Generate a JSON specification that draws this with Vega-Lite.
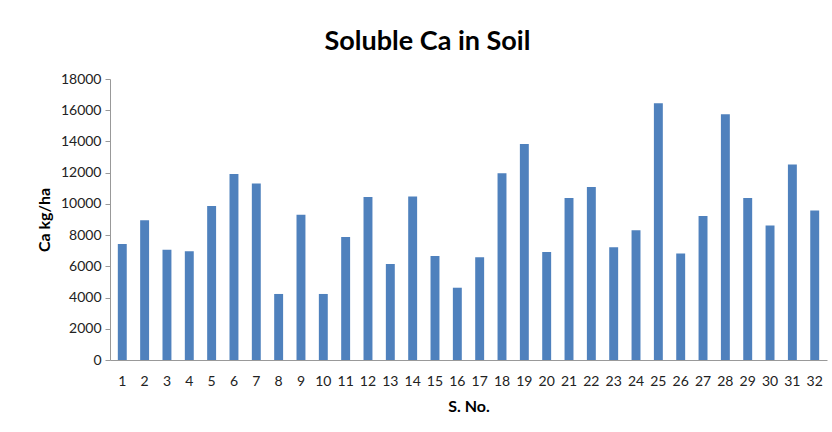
{
  "$schema": "https://vega.github.io/schema/vega-lite/v6.json",
  "width": 717,
  "height": 281,
  "autosize": {"type": "none"},
  "padding": {"left": 110, "top": 79, "right": 5, "bottom": 72},
  "background": "white",
  "title": {
    "text": "Soluble Ca in Soil",
    "font": "Lato",
    "fontSize": 27,
    "fontWeight": "bold",
    "color": "#000000",
    "anchor": "middle",
    "dx": -41,
    "offset": 16
  },
  "data": {
    "values": [
      {"sno": 1, "ca": 7430}, {"sno": 2, "ca": 8950}, {"sno": 3, "ca": 7070}, {"sno": 4, "ca": 6960},
      {"sno": 5, "ca": 9870}, {"sno": 6, "ca": 11920}, {"sno": 7, "ca": 11300}, {"sno": 8, "ca": 4230},
      {"sno": 9, "ca": 9310}, {"sno": 10, "ca": 4230}, {"sno": 11, "ca": 7880}, {"sno": 12, "ca": 10440},
      {"sno": 13, "ca": 6150}, {"sno": 14, "ca": 10480}, {"sno": 15, "ca": 6660}, {"sno": 16, "ca": 4630},
      {"sno": 17, "ca": 6580}, {"sno": 18, "ca": 11960}, {"sno": 19, "ca": 13840}, {"sno": 20, "ca": 6920},
      {"sno": 21, "ca": 10380}, {"sno": 22, "ca": 11080}, {"sno": 23, "ca": 7220}, {"sno": 24, "ca": 8310},
      {"sno": 25, "ca": 16440}, {"sno": 26, "ca": 6830}, {"sno": 27, "ca": 9220}, {"sno": 28, "ca": 15740},
      {"sno": 29, "ca": 10380}, {"sno": 30, "ca": 8610}, {"sno": 31, "ca": 12530}, {"sno": 32, "ca": 9570}
    ]
  },
  "mark": {"type": "bar", "color": "#4F81BD"},
  "encoding": {
    "x": {
      "field": "sno",
      "type": "ordinal",
      "title": "S. No.",
      "scale": {"paddingInner": 0.6, "paddingOuter": 0.35},
      "axis": {
        "labelAngle": 0,
        "labelFont": "Lato",
        "labelFontSize": 14,
        "labelColor": "#222222",
        "labelPadding": 14,
        "ticks": false,
        "domainColor": "#999999",
        "titleFont": "Lato",
        "titleFontSize": 16,
        "titleFontWeight": "bold",
        "titleColor": "#000000",
        "titlePadding": 10
      }
    },
    "y": {
      "field": "ca",
      "type": "quantitative",
      "title": "Ca kg/ha",
      "scale": {"domain": [0, 18000]},
      "axis": {
        "values": [0, 2000, 4000, 6000, 8000, 10000, 12000, 14000, 16000, 18000],
        "format": "d",
        "grid": false,
        "labelFont": "Lato",
        "labelFontSize": 14,
        "labelColor": "#222222",
        "labelPadding": 4,
        "tickSize": 5,
        "tickColor": "#999999",
        "domainColor": "#999999",
        "titleFont": "Lato",
        "titleFontSize": 16,
        "titleFontWeight": "bold",
        "titleColor": "#000000",
        "titlePadding": 8
      }
    }
  },
  "config": {"view": {"stroke": null}}
}
